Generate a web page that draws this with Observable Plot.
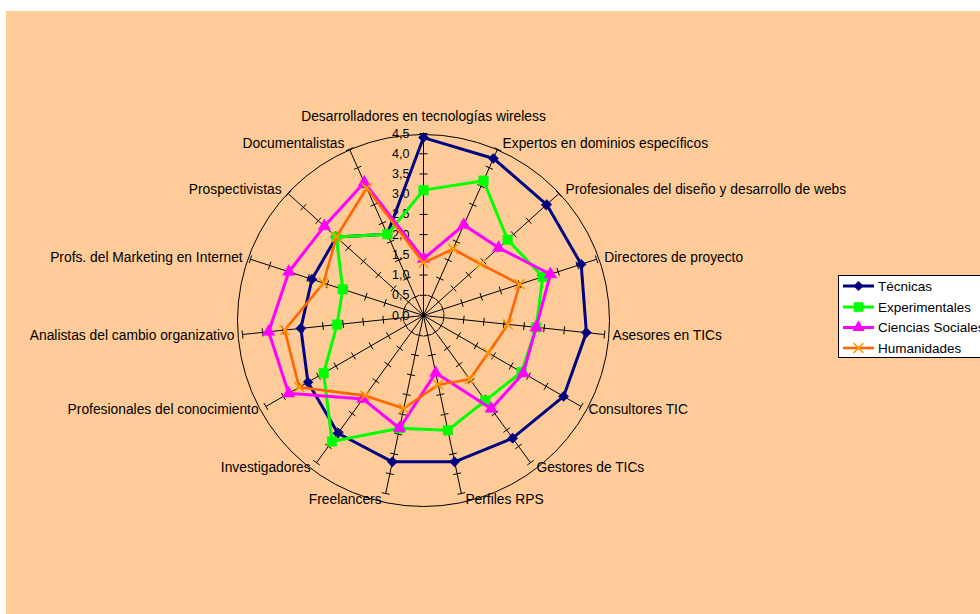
<!DOCTYPE html>
<html>
<head>
<meta charset="utf-8">
<script src="https://cdn.jsdelivr.net/npm/d3@7"></script>
<script src="https://cdn.jsdelivr.net/npm/@observablehq/plot@0.6"></script>
<style>
  html, body { margin: 0; padding: 0; background: #ffffff; width: 980px; height: 614px; overflow: hidden; }
  #panel { position: absolute; left: 6px; top: 11px; width: 974px; height: 603px; background: #FFCC99; }
  #legend { position: absolute; left: 838px; top: 275px; width: 170px; height: 83px; background: #ffffff;
            border: 1px solid #000; box-sizing: border-box; }
  #legend svg { display: block; }
</style>
</head>
<body>
<div id="panel"></div>
<div id="legend"></div>
<script>
const categories = [
  "Desarrolladores en tecnologías wireless",
  "Expertos en dominios específicos",
  "Profesionales del diseño y desarrollo de webs",
  "Directores de proyecto",
  "Asesores en TICs",
  "Consultores TIC",
  "Gestores de TICs",
  "Perfiles RPS",
  "Freelancers",
  "Investigadores",
  "Profesionales del conocimiento",
  "Analistas del cambio organizativo",
  "Profs. del Marketing en Internet",
  "Prospectivistas",
  "Documentalistas"
];
const seriesNames = ["Técnicas", "Experimentales", "Ciencias Sociales", "Humanidades"];
const tecnicas       = [4.4, 4.25, 4.1, 4.1, 4.05, 4.0, 3.75, 3.7, 3.7, 3.6, 3.3, 3.05, 2.9, 2.9, 2.2];
const experimentales = [3.1, 3.65, 2.8, 3.1, 2.8, 2.8, 2.6, 2.9, 2.85, 3.85, 2.85, 2.15, 2.1, 2.9, 2.2];
const sociales       = [1.4, 2.45, 2.5, 3.3, 2.8, 2.85, 2.85, 1.45, 2.85, 2.55, 3.85, 3.85, 3.5, 3.3, 3.6];
const humanidades    = [1.3, 1.8, 1.9, 2.5, 2.1, 1.85, 1.95, 1.75, 2.35, 2.45, 3.55, 3.45, 2.6, 2.9, 3.45];
const tickValues = [0, 0.5, 1, 1.5, 2, 2.5, 3, 3.5, 4, 4.5];
const tickLabels = ["0,0", "0,5", "1,0", "1,5", "2,0", "2,5", "3,0", "3,5", "4,0", "4,5"];

const seriesValues = [tecnicas, experimentales, sociales, humanidades];
const lineColors = ["#000080", "#00FF00", "#FF00FF", "#FF6600"];
const markColors = ["#000080", "#00FF00", "#FF00FF", "#FF9900"];
const symbols = ["diamond2", "square", "triangle", "times"];
const symbolR = [4.6, 5.4, 4.6, 4.5];

const W = 974, H = 603;
const k = 40.44;          // pixels per unit
const cx = 417, cy = 304; // centre inside the svg
const maxV = 4.5;
const n = categories.length;
const ang = i => i * 2 * Math.PI / n;

// points of each series
const rows = [];
seriesValues.forEach((vals, s) => {
  vals.forEach((v, i) => rows.push({s, name: seriesNames[s], i, v, x: v * Math.sin(ang(i)), y: v * Math.cos(ang(i))}));
});

// axes
const axes = categories.map((c, i) => ({x1: 0, y1: 0, x2: maxV * Math.sin(ang(i)), y2: maxV * Math.cos(ang(i))}));
// ticks
const half = 4 / k;
const ticks = [];
categories.forEach((c, i) => {
  const a = ang(i), sx = Math.sin(a), cyy = Math.cos(a);
  tickValues.slice(1).forEach(t => {
    ticks.push({x1: t * sx + half * cyy, y1: t * cyy - half * sx, x2: t * sx - half * cyy, y2: t * cyy + half * sx});
  });
});
// category label anchors
const labels = categories.map((c, i) => {
  const a = ang(i), s = Math.sin(a), co = Math.cos(a);
  let ox = 0, oy = 0, anchor = "middle";
  if (i === 0) { oy = -17; }
  else {
    ox = Math.sign(s) * (3 + 5 * Math.abs(s));
    oy = -6 * co;
    anchor = s > 0 ? "start" : "end";
  }
  return {text: c, anchor, x: maxV * s + ox / k, y: maxV * co - oy / k};
});

const font = "'Liberation Sans', Arial, sans-serif";
const marks = [
  Plot.text(tickValues, {x: 0, y: d => d, text: (d, i) => tickLabels[i], textAnchor: "end", dx: -14,
    fontSize: 12.5, fill: "#000", fontFamily: font}),
  Plot.dot([0], {x: 0, y: 0, r: 186, dy: 5, stroke: "#000", strokeWidth: 1, fill: "none"}),
  Plot.link(axes, {x1: "x1", y1: "y1", x2: "x2", y2: "y2", stroke: "#000", strokeWidth: 1}),
  Plot.link(ticks, {x1: "x1", y1: "y1", x2: "x2", y2: "y2", stroke: "#000", strokeWidth: 1}),
  ...["start", "end", "middle"].map(an => Plot.text(labels.filter(d => d.anchor === an), {
    x: "x", y: "y", text: "text", textAnchor: an, fontSize: 13.8, fill: "#000", fontFamily: font}))
];
seriesNames.forEach((nm, s) => {
  const data = rows.filter(d => d.s === s);
  marks.push(Plot.line(data, {x: "x", y: "y", stroke: lineColors[s], strokeWidth: s === 3 ? 2.6 : 3, curve: "linear-closed"}));
  const isStroke = symbols[s] === "times";
  marks.push(Plot.dot(data, {x: "x", y: "y", symbol: () => symbols[s], r: symbolR[s],
    fill: isStroke ? "none" : markColors[s], stroke: markColors[s], strokeWidth: isStroke ? 1.6 : 0.5}));
});

const chart = Plot.plot({
  width: W, height: H,
  margin: 0,
  x: {type: "linear", domain: [-cx / k, (W - cx) / k], range: [0, W], axis: null},
  y: {type: "linear", domain: [-(H - cy) / k, cy / k], range: [H, 0], axis: null},
  symbol: {type: "identity"},
  style: {background: "transparent", overflow: "visible"},
  marks
});
document.getElementById("panel").appendChild(chart);

// legend (HTML/SVG, outside the chart)
const ns = "http://www.w3.org/2000/svg";
const lg = document.createElementNS(ns, "svg");
lg.setAttribute("width", 170); lg.setAttribute("height", 81);
const rowY = [10, 31, 51.5, 72];
seriesNames.forEach((nm, s) => {
  const y = rowY[s];
  const ln = document.createElementNS(ns, "line");
  ln.setAttribute("x1", 4); ln.setAttribute("x2", 35); ln.setAttribute("y1", y); ln.setAttribute("y2", y);
  ln.setAttribute("stroke", lineColors[s]); ln.setAttribute("stroke-width", s === 3 ? 2.6 : 3);
  lg.appendChild(ln);
  const p = document.createElementNS(ns, "path");
  const sym = [d3.symbolDiamond2, d3.symbolSquare, d3.symbolTriangle, d3.symbolTimes][s];
  p.setAttribute("d", d3.symbol(sym, Math.PI * symbolR[s] * symbolR[s])());
  p.setAttribute("transform", `translate(19.5,${y})`);
  if (s === 3) { p.setAttribute("fill", "none"); p.setAttribute("stroke", markColors[s]); p.setAttribute("stroke-width", 1.6); }
  else { p.setAttribute("fill", markColors[s]); }
  lg.appendChild(p);
  const t = document.createElementNS(ns, "text");
  t.setAttribute("x", 39); t.setAttribute("y", y + 4.6);
  t.setAttribute("font-family", "Liberation Sans, Arial, sans-serif"); t.setAttribute("font-size", 13.5);
  t.textContent = nm;
  lg.appendChild(t);
});
document.getElementById("legend").appendChild(lg);
</script>
</body>
</html>
